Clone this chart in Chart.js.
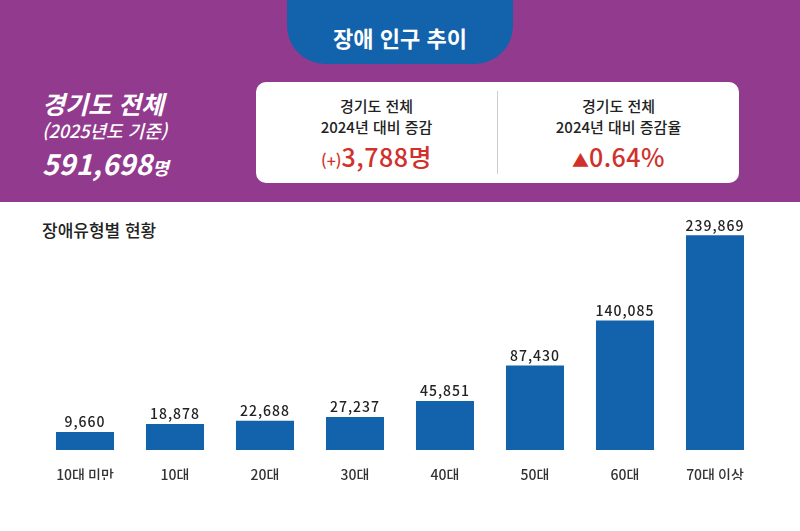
<!DOCTYPE html>
<html lang="ko">
<head>
<meta charset="utf-8">
<title>장애 인구 추이</title>
<script src="https://cdn.jsdelivr.net/npm/chart.js@4.4.1/dist/chart.umd.min.js"></script>
<style>
  html, body { margin: 0; padding: 0; }
  body {
    width: 800px; height: 531px; position: relative; overflow: hidden;
    background: #ffffff;
    font-family: "Noto Sans CJK KR", "Noto Sans", sans-serif;
  }
  .band { position: absolute; left: 0; top: 0; width: 800px; height: 202px; background: #923B8E; }
  .tab {
    position: absolute; left: 287px; top: 0; width: 226px; height: 64px;
    background: #1362AC; border-radius: 0 0 38px 38px;
    color: #fff; font-weight: 700; font-size: 22px; line-height: 28px;
    text-align: center; padding-top: 23px; box-sizing: border-box;
  }
  .side { position: absolute; left: 42px; color: #fff; font-style: italic; white-space: nowrap; }
  .side.t1 { top: 88px; font-size: 25px; line-height: 30px; font-weight: 700; }
  .side.t2 { top: 119px; font-size: 18px; line-height: 22px; font-weight: 500; }
  .side.t3 { top: 146px; font-size: 28px; line-height: 34px; font-weight: 700; letter-spacing: 0.3px; }
  .side.t3 small { font-size: 18px; letter-spacing: 0; }
  .box {
    position: absolute; left: 256px; top: 82px; width: 483px; height: 101px;
    background: #fff; border-radius: 10px;
  }
  .divider { position: absolute; left: 241px; top: 9px; width: 1px; height: 83px; background: #cccccc; }
  .col { position: absolute; top: 0; width: 241px; height: 101px; color: #222; text-align: center; }
  .col.left { left: 0; }
  .col.right { left: 242px; }
  .col .l1 { position: absolute; left: 0; right: 0; top: 14px; font-size: 15px; line-height: 20px; font-weight: 500; }
  .col .l2 { position: absolute; left: 0; right: 0; top: 35px; font-size: 15px; line-height: 20px; font-weight: 500; }
  .col .l3 {
    position: absolute; left: 0; right: 0; top: 60px; font-size: 25px; line-height: 28px;
    color: #D0312D; letter-spacing: 0.5px; font-weight: 500;
  }
  .col .l3 .sm { font-size: 16px; letter-spacing: 0; }
  .col .l3 .tri { font-size: 17px; letter-spacing: 0; }
  .subtitle {
    position: absolute; left: 42px; top: 219px; font-size: 17px; line-height: 22px;
    font-weight: 500; color: #222;
  }
  .chart-wrap { position: absolute; left: 0; top: 202px; width: 800px; height: 329px; }
</style>
</head>
<body>
<div class="band"></div>
<div class="tab">장애 인구 추이</div>

<div class="side t1">경기도 전체</div>
<div class="side t2">(2025년도 기준)</div>
<div class="side t3">591,698<small>명</small></div>

<div class="box">
  <div class="col left">
    <div class="l1">경기도 전체</div>
    <div class="l2">2024년 대비 증감</div>
    <div class="l3"><span class="sm">(+)</span>3,788명</div>
  </div>
  <div class="divider"></div>
  <div class="col right">
    <div class="l1">경기도 전체</div>
    <div class="l2">2024년 대비 증감율</div>
    <div class="l3"><span class="tri">▲</span>0.64%</div>
  </div>
</div>

<div class="subtitle">장애유형별 현황</div>

<div class="chart-wrap"><canvas id="ageChart"></canvas></div>

<script>
// Age groups and number of registered persons with disabilities
const categories = ['10대 미만', '10대', '20대', '30대', '40대', '50대', '60대', '70대 이상'];
const populations = [9660, 18878, 22688, 27237, 45851, 87430, 140085, 239869];

// the infographic gives small bars a little extra height, so bars rise from below zero
const barFloor = -11450;

// Draw the value above each bar
const valueLabels = {
    id: 'valueLabels',
    afterDatasetsDraw(chart) {
        const ctx = chart.ctx;
        const meta = chart.getDatasetMeta(0);
        ctx.save();
        ctx.font = '500 14px "Noto Sans CJK KR"';
        ctx.letterSpacing = '1px';
        ctx.fillStyle = '#222222';
        ctx.textAlign = 'center';
        ctx.textBaseline = 'middle';
        meta.data.forEach((bar, i) => {
            ctx.fillText(populations[i].toLocaleString('en-US'), bar.x, bar.y - 10);
        });
        ctx.restore();
    }
};

const ctx = document.getElementById('ageChart').getContext('2d');
new Chart(ctx, {
    type: 'bar',
    data: {
        labels: categories,
        datasets: [{
            data: populations,
            base: barFloor,
            backgroundColor: '#1362AC',
            borderWidth: 0,
            barPercentage: 1,
            categoryPercentage: 0.645
        }]
    },
    options: {
        responsive: true,
        maintainAspectRatio: false,
        animation: false,
        layout: { padding: { top: 16, bottom: 51, left: 40, right: 40 } },
        plugins: {
            legend: { display: false },
            tooltip: { enabled: false }
        },
        scales: {
            y: {
                display: false,
                min: barFloor,
                max: 260000
            },
            x: {
                grid: { display: false },
                border: { display: false },
                ticks: {
                    color: '#333333',
                    padding: 8,
                    maxRotation: 0,
                    autoSkip: false,
                    font: { family: '"Noto Sans CJK KR"', size: 14, weight: '500' }
                },
                afterFit: (scale) => { scale.height = 30; }
            }
        }
    },
    plugins: [valueLabels]
});
</script>
</body>
</html>
